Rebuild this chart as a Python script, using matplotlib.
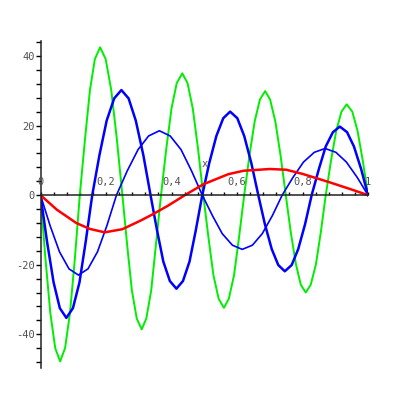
import matplotlib
matplotlib.use("Agg")
import matplotlib.pyplot as plt
from matplotlib.ticker import MultipleLocator
from matplotlib.transforms import blended_transform_factory

# red curve
red_x = [0, 0.05, 0.109, 0.15, 0.196, 0.25, 0.304, 0.343, 0.39, 0.441, 0.497,
         0.573, 0.62, 0.70, 0.75, 0.80, 0.879, 0.95, 1.0]
red_y = [0, -4.2, -8.0, -9.7, -10.7, -9.8, -7.4, -5.5, -3.0, 0, 3.1,
         6.0, 7.0, 7.5, 7.3, 6.1, 3.8, 1.6, 0]

# green curve
green_x = [0, 0.015, 0.03, 0.045, 0.06, 0.075, 0.09, 0.105, 0.12,
           0.136, 0.151, 0.166, 0.182, 0.199, 0.216, 0.233, 0.25,
           0.265, 0.279, 0.294, 0.309, 0.323, 0.338, 0.352, 0.368,
           0.384, 0.400, 0.416, 0.433, 0.449, 0.465, 0.481, 0.497,
           0.513, 0.528, 0.544, 0.560, 0.575, 0.591, 0.606, 0.622,
           0.638, 0.654, 0.670, 0.686, 0.701, 0.717, 0.733, 0.749,
           0.764, 0.780, 0.795, 0.810, 0.825, 0.841, 0.856, 0.871,
           0.887, 0.903, 0.919, 0.935, 0.952, 0.968, 0.984, 1.0]
green_y = [0, -18.2, -33.9, -44.0, -47.8, -44.0, -33.9, -18.2, 0,
           16.2, 30.2, 39.1, 42.5, 39.1, 30.2, 16.2, 0,
           -14.7, -27.4, -35.5, -38.6, -35.5, -27.4, -14.7, 0,
           13.3, 24.9, 32.2, 35.0, 32.2, 24.9, 13.3, 0,
           -12.3, -23.0, -29.8, -32.4, -29.8, -23.0, -12.3, 0,
           11.4, 21.2, 27.5, 29.9, 27.5, 21.2, 11.4, 0,
           -10.6, -19.9, -25.8, -28.0, -25.8, -19.9, -10.6, 0,
           9.9, 18.5, 24.0, 26.1, 24.0, 18.5, 9.9, 0]

# thick blue curve
blue1_x = [0, 0.020, 0.040, 0.059, 0.079, 0.099, 0.119, 0.138, 0.158,
           0.180, 0.202, 0.225, 0.247, 0.269, 0.291, 0.314, 0.336,
           0.356, 0.375, 0.395, 0.415, 0.435, 0.455, 0.474, 0.494,
           0.515, 0.537, 0.558, 0.579, 0.601, 0.622, 0.644, 0.665,
           0.685, 0.706, 0.726, 0.746, 0.767, 0.787, 0.808, 0.828,
           0.850, 0.871, 0.893, 0.914, 0.936, 0.957, 0.979, 1.0]
blue1_y = [0, -13.4, -25.1, -32.5, -35.3, -32.5, -25.1, -13.4, 0,
           11.5, 21.4, 27.8, 30.2, 27.8, 21.4, 11.5, 0,
           -10.2, -19.1, -24.7, -26.9, -24.7, -19.1, -10.2, 0,
           9.1, 17.0, 22.1, 24.0, 22.1, 17.0, 9.1, 0,
           -8.3, -15.5, -20.1, -21.9, -20.1, -15.5, -8.3, 0,
           7.5, 14.0, 18.1, 19.7, 18.1, 14.0, 7.5, 0]

# thin blue curve
blue2_x = [0, 0.029, 0.058, 0.087, 0.116, 0.145, 0.174, 0.203, 0.232,
           0.265, 0.298, 0.330, 0.363, 0.396, 0.429, 0.461, 0.494,
           0.525, 0.555, 0.586, 0.616, 0.647, 0.677, 0.708, 0.738,
           0.771, 0.803, 0.836, 0.869, 0.902, 0.934, 0.967, 1.0]
blue2_y = [0, -8.7, -16.3, -21.2, -23.0, -21.2, -16.3, -8.7, 0,
           7.0, 13.1, 17.0, 18.5, 17.0, 13.1, 7.0, 0,
           -5.9, -11.1, -14.4, -15.6, -14.4, -11.1, -5.9, 0,
           5.1, 9.5, 12.3, 13.4, 12.3, 9.5, 5.1, 0]

xtick_vals = [0, 0.2, 0.4, 0.6, 0.8, 1]
xtick_text = ["0", "0,2", "0,4", "0,6", "0,8", "1"]
ytick_vals = [-40, -20, 0, 20, 40]
ytick_text = ["-40", "-20", "0", "20", "40"]

fig = plt.figure(figsize=(4.09, 4.09), dpi=100)
ax = fig.add_axes([40.5 / 409, 41 / 409, 327.5 / 409, 327 / 409])

ax.plot(green_x, green_y, color="#00ee00", lw=1.4)
ax.plot(blue2_x, blue2_y, color="#0000ff", lw=1.2)
ax.plot(blue1_x, blue1_y, color="#0000ff", lw=1.8)
ax.plot(red_x, red_y, color="#ff0000", lw=1.8)

ax.set_xlim(0, 1)
ax.set_ylim(-49.7, 44.3)

for s in ["top", "right"]:
    ax.spines[s].set_visible(False)
ax.spines["bottom"].set_position(("data", 0))
ax.spines["bottom"].set_linewidth(1.1)
ax.spines["left"].set_linewidth(1.1)
ax.spines["bottom"].set_color("#222222")
ax.spines["left"].set_color("#222222")

ax.xaxis.set_major_locator(MultipleLocator(0.04))
ax.tick_params(axis="x", which="both", direction="in", length=2.4, width=1,
               labelbottom=False)
ax.set_yticks(ytick_vals)
ax.set_yticklabels(ytick_text, family="DejaVu Sans Mono", fontsize=7.5,
                   color="#505050")
ax.yaxis.set_minor_locator(MultipleLocator(4))
ax.tick_params(axis="y", which="both", direction="out", length=3.4, width=1,
               pad=0.5)

trans = blended_transform_factory(ax.transData, ax.transData)
for v, t in zip(xtick_vals, xtick_text):
    ax.annotate(t, (v, 0), xytext=(0, 5.5), textcoords="offset points",
                ha="center", va="bottom", family="DejaVu Sans Mono",
                fontsize=7.5, color="#505050")
ax.annotate("x", (0.5, 0), xytext=(0, 19), textcoords="offset points",
            ha="center", va="bottom", family="DejaVu Sans Mono",
            fontsize=7.5, color="#505050")

fig.savefig("out.png", dpi=100)
